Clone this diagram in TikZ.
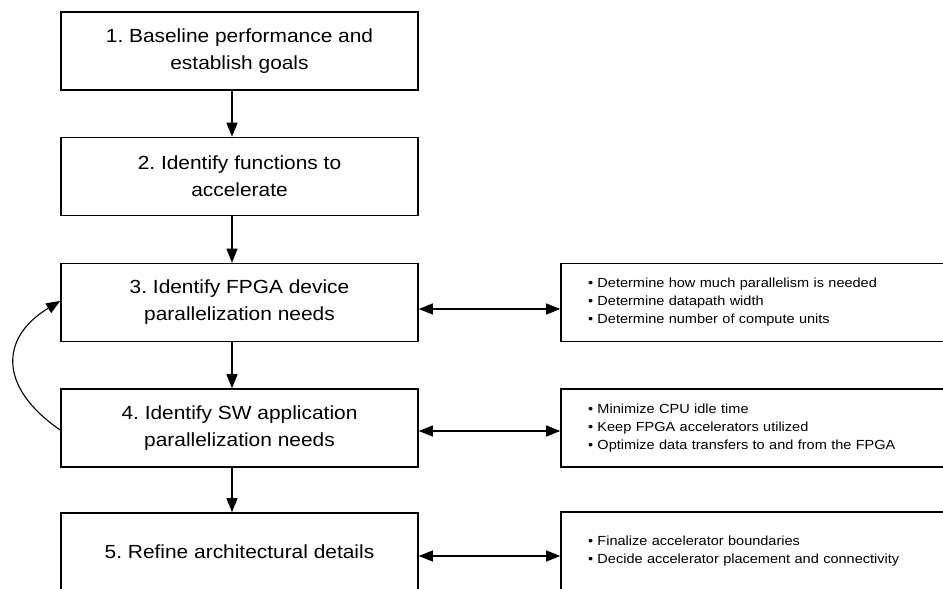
\documentclass[tikz,border=0pt]{standalone}
\usepackage{fontspec}
\setmainfont[FakeStretch=1.1]{Liberation Sans}
\usetikzlibrary{arrows.meta,positioning,calc}
\frenchspacing
\tikzset{
  stepbox/.style={draw, line width=1.6pt, minimum width=357pt, minimum height=78pt, align=center, font=\fontsize{19}{27}\selectfont, inner sep=0pt},
  notebox/.style={draw, line width=1.6pt, minimum width=389pt, minimum height=78pt, align=left, font=\fontsize{13.2}{18}\selectfont, inner sep=0pt, text width=335pt},
  flow/.style={line width=1.1pt, -{Triangle[length=14pt,width=11pt]}},
  both/.style={line width=1.1pt, {Triangle[length=14pt,width=11pt]}-{Triangle[length=14pt,width=11pt]}}
}
\begin{document}
\begin{tikzpicture}[x=1pt,y=-1pt]
\useasboundingbox (0,0) rectangle (943,589);
\clip (0,0) rectangle (943,589);
\node[stepbox] (b1) at (239.5,51) {1. Baseline performance and\\establish goals};
\node[stepbox] (b2) at (239.5,176.5) {2. Identify functions to\\accelerate};
\node[stepbox] (b3) at (239.5,302.5) {3. Identify FPGA device\\parallelization needs};
\node[stepbox] (b4) at (239.5,428) {4. Identify SW application\\parallelization needs};
\node[stepbox] (b5) at (239.5,552) {5. Refine architectural details};
\node[notebox] (n3) at (755.5,302.5) {\textbullet\ Determine how much parallelism is needed\\\textbullet\ Determine datapath width\\\textbullet\ Determine number of compute units};
\node[notebox] (n4) at (755.5,428) {\textbullet\ Minimize CPU idle time\\\textbullet\ Keep FPGA accelerators utilized\\\textbullet\ Optimize data transfers to and from the FPGA};
\node[notebox] (n5) at (755.5,551) {\textbullet\ Finalize accelerator boundaries\\\textbullet\ Decide accelerator placement and connectivity};
\draw[flow] ([xshift=-7.5pt]b1.south) -- ([xshift=-7.5pt]b2.north);
\draw[flow] ([xshift=-7.5pt]b2.south) -- ([xshift=-7.5pt]b3.north);
\draw[flow] ([xshift=-7.5pt]b3.south) -- ([xshift=-7.5pt]b4.north);
\draw[flow] ([xshift=-7.5pt]b4.south) -- ([xshift=-7.5pt]b5.north);
\coordinate (a3) at (0,309);
\coordinate (a4) at (0,431);
\coordinate (a5) at (0,556);
\draw[both] (b3.east |- a3) -- (n3.west |- a3);
\draw[both] (b4.east |- a4) -- (n4.west |- a4);
\draw[both] (b5.east |- a5) -- (n5.west |- a5);
\coordinate (c1) at (0,430);
\coordinate (c2) at (0,301);
\draw[flow] (b4.west |- c1) .. controls (-1,388) and (-1,338) .. (b3.west |- c2);
\end{tikzpicture}
\end{document}
